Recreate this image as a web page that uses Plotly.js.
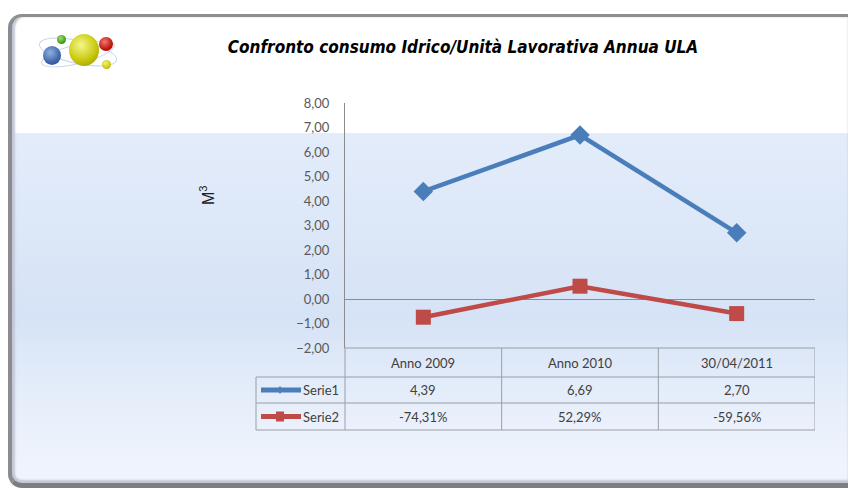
<!DOCTYPE html>
<html>
<head>
<meta charset="utf-8">
<script src="https://cdn.plot.ly/plotly-3.0.1.min.js"></script>
<style>
  html, body { margin:0; padding:0; background:#ffffff; }
  #wrap { position:relative; width:848px; height:493px; overflow:hidden; }
  #frame {
    position:absolute; left:8px; top:14px; width:836px; height:466px;
    border-top:3px solid #8e8e8e; border-left:4px solid #8a8c92;
    border-bottom:5px solid #7c7e84; border-right:2px solid #a8a8a8;
    border-radius:14px 3px 3px 14px;
    box-shadow: inset 3px 0 2px #c3c8d6, inset 0 -3px 2px #c3c8d6;
    background: linear-gradient(to bottom, #ffffff 0px, #ffffff 116px, #e3ecfa 116px, #d6e3f6 300px, #e9f0fb 400px, #f0f5fd 466px);
  }
  .ball { position:absolute; border-radius:50%; }
  .orbit { position:absolute; border:1px solid rgba(150,180,225,0.55); border-radius:50%; }
  #chart { position:absolute; left:0; top:0; width:848px; height:493px; }
</style>
</head>
<body>
<div id="wrap">
  <div id="frame"></div>
  <div class="orbit" style="left:38px;top:40px;width:78px;height:22px;transform:rotate(12deg);"></div>
  <div class="orbit" style="left:40px;top:44px;width:74px;height:18px;transform:rotate(-14deg);"></div>
  <div class="ball" style="left:43px;top:46px;width:18px;height:19px;background:radial-gradient(circle at 40% 35%, #8fb0e0, #3f65a8 60%, #27457a);"></div>
  <div class="ball" style="left:57px;top:35px;width:9px;height:9px;background:radial-gradient(circle at 40% 35%, #9ddf6a, #3e9a1e 65%, #2a6a12);"></div>
  <div class="ball" style="left:69px;top:34px;width:30px;height:32px;background:radial-gradient(circle at 40% 35%, #f4f78a, #c9c90e 55%, #8e8c05);"></div>
  <div class="ball" style="left:99px;top:37px;width:14px;height:14px;background:radial-gradient(circle at 40% 35%, #f07a6e, #c0160c 60%, #7e0a05);"></div>
  <div class="ball" style="left:102px;top:60px;width:9px;height:9px;background:radial-gradient(circle at 40% 35%, #f2f27a, #c6c410 65%, #8a8806);"></div>
  <div id="chart"></div>
</div>
<script>
// ---- data ----
var categories = ["Anno 2009", "Anno 2010", "30/04/2011"];
var seriesNames = ["Serie1", "Serie2"];
var serie1 = [4.39, 6.69, 2.70];
var serie2 = [-0.7431, 0.5229, -0.5956];
var yTickVals = [-2, -1, 0, 1, 2, 3, 4, 5, 6, 7, 8];

// ---- layout geometry (pixels) ----
var W = 848, H = 493;
var M = { l: 345, r: 33, t: 103, b: 145 };
var PW = W - M.l - M.r, PH = H - M.t - M.b;
function px(x) { return (x - M.l) / PW; }
function py(y) { return 1 - (y - M.t) / PH; }

var blue = "#4a7ebb", red = "#be4b48";
var gridCol = "#8c8c8c", tableCol = "#9a9ea6", txtCol = "#404040";
var font = "Lato, 'Open Sans', sans-serif";

function fmt(v) { return v.toFixed(2).replace(".", ","); }
function fmtPct(v) { return (v * 100).toFixed(2).replace(".", ",") + "%"; }

var traces = [
  { type: "scatter", mode: "lines+markers", name: seriesNames[0], x: categories, y: serie1,
    line: { color: blue, width: 4.5 }, marker: { symbol: "diamond", size: 15, color: blue } },
  { type: "scatter", mode: "lines+markers", name: seriesNames[1], x: categories, y: serie2,
    line: { color: red, width: 4.5 }, marker: { symbol: "square", size: 15, color: red } }
];

// table geometry
var rowY = [348, 377, 403, 430];
var legL = 256;
var shapes = [];
var annotations = [];
function hline(x0, x1, y, xref) {
  shapes.push({ type: "line", xref: xref || "paper", yref: "paper", x0: x0, x1: x1, y0: py(y), y1: py(y),
    line: { color: tableCol, width: 1 } });
}
function vline(x, y0, y1, xref) {
  shapes.push({ type: "line", xref: xref || "paper", yref: "paper", x0: x, x1: x, y0: py(y0), y1: py(y1),
    line: { color: tableCol, width: 1 } });
}
hline(0, 1, rowY[0]);
hline(px(legL), 1, rowY[1]);
hline(px(legL), 1, rowY[2]);
hline(px(legL), 1, rowY[3]);
vline(px(legL), rowY[1], rowY[3]);
vline(0, rowY[0], rowY[3]);
for (var i = 0; i < categories.length; i++) {
  vline(i + 0.5, rowY[0], rowY[3], "x");
}
var rows = [serie1.map(fmt), serie2.map(fmtPct)];
for (var i = 0; i < categories.length; i++) {
  annotations.push({ xref: "x", yref: "paper", x: categories[i], y: py((rowY[0] + rowY[1]) / 2),
    xanchor: "center", yanchor: "middle",
    text: categories[i], showarrow: false, font: { family: font, size: 13, color: txtCol } });
  for (var r = 0; r < rows.length; r++) {
    annotations.push({ xref: "x", yref: "paper", x: categories[i], y: py((rowY[r + 1] + rowY[r + 2]) / 2),
      xanchor: "center", yanchor: "middle",
      text: rows[r][i], showarrow: false, font: { family: font, size: 13, color: txtCol } });
  }
}
var keyCols = [blue, red];
for (var r = 0; r < 2; r++) {
  var cy = (rowY[r + 1] + rowY[r + 2]) / 2;
  shapes.push({ type: "line", xref: "paper", yref: "paper", x0: px(261), x1: px(301), y0: py(cy), y1: py(cy),
    line: { color: keyCols[r], width: 5 } });
  if (r === 0) {
    shapes.push({ type: "path", xref: "paper", yref: "paper",
      path: "M" + px(280) + "," + py(cy - 4) + " L" + px(283) + "," + py(cy) + " L" + px(280) + "," + py(cy + 4) + " L" + px(277) + "," + py(cy) + " Z",
      fillcolor: keyCols[r], line: { width: 0 } });
  } else {
    shapes.push({ type: "rect", xref: "paper", yref: "paper", x0: px(276), x1: px(284), y0: py(cy - 5), y1: py(cy + 5),
      fillcolor: keyCols[r], line: { width: 0 } });
  }
  annotations.push({ xref: "paper", yref: "paper", x: px(341), y: py(cy), xanchor: "right", yanchor: "middle",
    text: seriesNames[r], showarrow: false, font: { family: font, size: 13, color: txtCol } });
}
annotations.push({ xref: "paper", yref: "paper", x: px(207), y: py(195), xanchor: "center", yanchor: "middle",
  text: "M<sup>3</sup>", textangle: -90, showarrow: false,
  font: { family: "'Liberation Sans', Arial, sans-serif", size: 16, color: "#1a1a1a" } });

var layout = {
  width: W, height: H, margin: M,
  paper_bgcolor: "rgba(0,0,0,0)", plot_bgcolor: "rgba(0,0,0,0)",
  separators: ",.",
  showlegend: false,
  title: { text: "<b><i>Confronto consumo Idrico/Unità Lavorativa Annua ULA</i></b>",
    xref: "container", yref: "container", x: 463 / W, y: 1 - 47 / H, xanchor: "center", yanchor: "middle",
    font: { family: "'Liberation Sans Narrow', 'DejaVu Sans Condensed', sans-serif", size: 17, color: "#000000" } },
  xaxis: { type: "category", range: [-0.5, 2.5], showticklabels: false, showgrid: false,
    zeroline: false, showline: false, fixedrange: true },
  yaxis: { range: [-2, 8], tickvals: yTickVals, tickformat: ".2f", showgrid: false,
    showline: true, linecolor: gridCol, linewidth: 1,
    zeroline: true, zerolinecolor: gridCol, zerolinewidth: 1,
    ticks: "", ticklabelstandoff: 12,
    tickfont: { family: font, size: 13, color: "#595959" } },
  shapes: shapes,
  annotations: annotations
};

Plotly.newPlot("chart", traces, layout, { displayModeBar: false, staticPlot: true });
</script>
</body>
</html>
